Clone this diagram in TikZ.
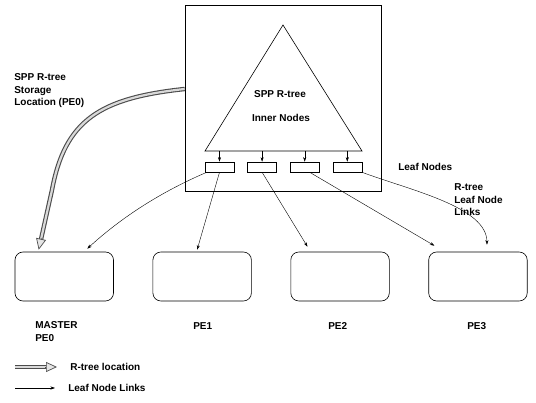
\documentclass[tikz,border=0pt]{standalone}
\usepackage{fontspec}
\setmainfont{Liberation Sans}
\usetikzlibrary{arrows.meta}
\usetikzlibrary{calc}
\usetikzlibrary{positioning}

\begin{document}
\begin{tikzpicture}[x=1pt,y=-1pt,semithick,node distance=38.8pt,font=\fontsize{10}{12.5}\selectfont\bfseries]
	\tikzstyle{leaf}=[draw, minimum width=29pt, minimum height=10pt, inner sep=0pt]
	\tikzstyle{pe}=[draw, rounded corners=8pt, minimum width=98.5pt, minimum height=49pt]
	\tikzstyle{lbl}=[anchor=west, align=left, inner sep=0pt]
	\tikzstyle{link}=[-{Stealth[length=4.5pt,width=3pt]}, thin]
	\tikzstyle{storeouter}=[line width=4.4pt, draw=black!70]
	\tikzstyle{storeinner}=[line width=2.2pt, draw=black!15]
	\tikzstyle{storetip}=[-{Triangle[length=11pt,width=10pt,fill=black!10]}, line width=0.7pt, draw=black!70]
	\useasboundingbox (0,0) rectangle (536,403);

	% processing elements
	\node[pe] (master) at (64.25,276.5) {};
	\node[pe] (pe1) [right=of master] {};
	\node[pe] (pe2) [right=of pe1] {};
	\node[pe] (pe3) [right=of pe2] {};

	% storage box with the tree
	\node[draw, minimum width=196pt, minimum height=186pt] (box) at (283,98) {};
	\coordinate (apex) at (283,25);
	\coordinate (basel) at (205,151);
	\coordinate (baser) at (362,151);
	\draw (apex) -- (basel) -- (baser) -- cycle;
	\node (tree1) at (280,94) {SPP R-tree};
	\node (tree2) at (281,118) {Inner Nodes};

	\node[leaf] (leaf1) at (219.5,167) {};
	\node[leaf] (leaf2) [right=13pt of leaf1] {};
	\node[leaf] (leaf3) [right=13pt of leaf2] {};
	\node[leaf] (leaf4) [right=13pt of leaf3] {};
	\foreach \i in {1,...,4}
		\draw[link] (leaf\i.north |- basel) -- (leaf\i.north);

	% leaf node links
	\draw[link] ($(leaf1.south west)+(2,0)$) .. controls (163,191) and (123,216) .. ($(master.north)+(23,-3)$);
	\draw[link] (leaf1.south) -- ($(pe1.north)+(-5,-2)$);
	\draw[link] (leaf2.south) -- ($(pe2.north west)+(17,-5)$);
	\draw[link] ($(leaf3.south)+(5,0)$) -- ($(pe3.north west)+(6,-6)$);
	\draw[link] (leaf4.south east) .. controls +(48,18) and +(0,-38) .. ($(pe3.north)+(9,-7)$);

	% storage location arrow
	\coordinate (storestart) at ($(box.west)+(0,-9)$);
	\coordinate (storebend) at (52,190);
	\coordinate (storeend) at ($(master.north west)+(24,-2)$);
	\draw[storeouter, shorten >=9pt] (storestart) .. controls (100,98) and (65,120) .. (storebend) -- (storeend);
	\draw[storeinner, shorten >=8pt] (storestart) .. controls (100,98) and (65,120) .. (storebend) -- (storeend);
	\draw[storetip] ($(storeend)!12pt!(storebend)$) -- (storeend);

	% labels
	\node[lbl] (storelbl) at (14,91) {SPP R-tree\\Storage\\Location (PE0)};
	\node[lbl] (leaflbl) at (398,167) {Leaf Nodes};
	\node[lbl] (linklbl) at (454,200) {R-tree\\Leaf Node\\Links};
	\node[lbl] (masterlbl) at (35,331.5) {MASTER\\PE0};
	\node[lbl] (pe1lbl) at (193,326) {PE1};
	\node[lbl] (pe2lbl) at (328,326) {PE2};
	\node[lbl] (pe3lbl) at (467,326) {PE3};

	% legend
	\coordinate (legA) at (15,367);
	\coordinate (legB) at (57,367);
	\draw[storeouter, shorten >=9pt] (legA) -- (legB);
	\draw[storeinner, shorten >=8pt] (legA) -- (legB);
	\draw[storetip] ($(legB)+(-12,0)$) -- (legB);
	\node[lbl] (legloc) at (70,367) {R-tree location};
	\coordinate (legC) at (15,388);
	\coordinate (legD) at (55,388);
	\draw[link] (legC) -- (legD);
	\node[lbl] (leglink) at (68,388) {Leaf Node Links};
\end{tikzpicture}
\end{document}
